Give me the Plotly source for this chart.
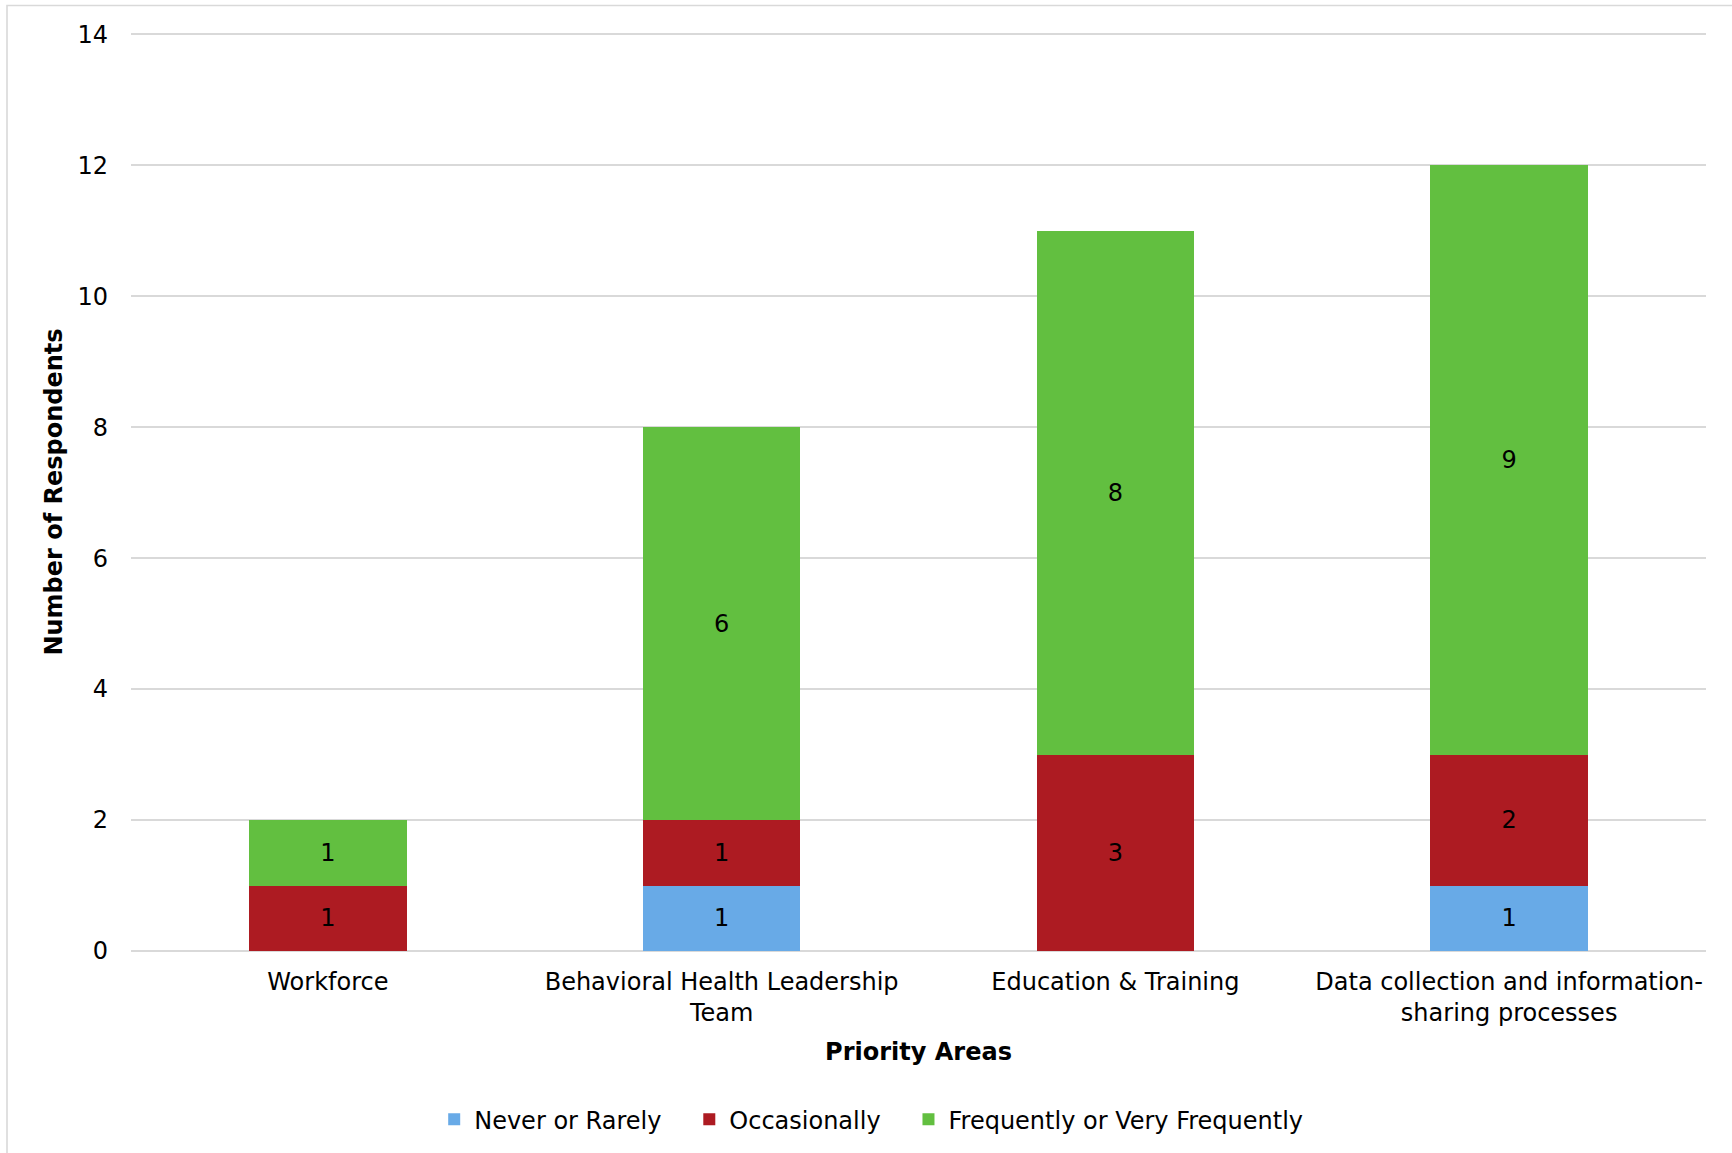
import plotly.graph_objects as go

categories = ["Workforce", "Behavioral Health Leadership<br>Team", "Education & Training",
              "Data collection and information-<br>sharing processes"]
never_rarely = [0, 1, 0, 1]
occasionally = [1, 1, 3, 2]
frequently = [1, 6, 8, 9]
series_names = ["Never or Rarely", "Occasionally", "Frequently or Very Frequently"]
series_colors = ["#68aae7", "#ad1b22", "#62bf40"]
legend_pad = ["&nbsp;&nbsp;&nbsp;", "&nbsp;&nbsp;&nbsp;", ""]

FONT = "DejaVu Sans, Verdana, sans-serif"
FS = 24

fig = go.Figure()
for name, vals, col, pad in zip(series_names, [never_rarely, occasionally, frequently],
                                series_colors, legend_pad):
    fig.add_trace(go.Bar(
        name=name + pad, x=categories, y=vals,
        marker=dict(color=col, line=dict(width=0)),
        text=[str(v) if v else "" for v in vals],
        textposition="inside", insidetextanchor="middle", textangle=0,
        constraintext="none",
        textfont=dict(family=FONT, size=FS, color="#000000"),
    ))

fig.update_layout(
    barmode="stack", bargap=0.6,
    width=1732, height=1153,
    margin=dict(l=131, r=26, t=33, b=202),
    paper_bgcolor="white", plot_bgcolor="white",
    font=dict(family=FONT, size=FS, color="#000000"),
    showlegend=True,
    legend=dict(orientation="h", xref="container", x=0.503, xanchor="center",
                yref="container", y=0.029, yanchor="middle",
                font=dict(family=FONT, size=FS, color="#000000"),
                itemwidth=30, traceorder="normal"),
    xaxis=dict(title=dict(text="<b>Priority Areas</b>", font=dict(family=FONT, size=FS), standoff=16),
               tickfont=dict(family=FONT, size=FS), showgrid=False, showline=False,
               ticks="", ticklabelstandoff=14),
    yaxis=dict(title=dict(text="<b>Number of Respondents</b>", font=dict(family=FONT, size=FS), standoff=8),
               range=[0, 14.02], tickvals=[0, 2, 4, 6, 8, 10, 12, 14], tickfont=dict(family=FONT, size=FS),
               showgrid=True, gridcolor="#d9d9d9", gridwidth=1.6,
               zeroline=True, zerolinecolor="#d9d9d9", zerolinewidth=1.6,
               showline=False, ticks="", ticklabelstandoff=22),
    shapes=[dict(type="rect", xref="paper", yref="paper",
                 x0=(7 - 131) / 1575, x1=1.2, y0=-0.5, y1=1 + (33 - 5.5) / 918,
                 line=dict(color="#d9d9d9", width=1.6), fillcolor="rgba(0,0,0,0)", layer="below")],
)

fig.write_html("out.html")
